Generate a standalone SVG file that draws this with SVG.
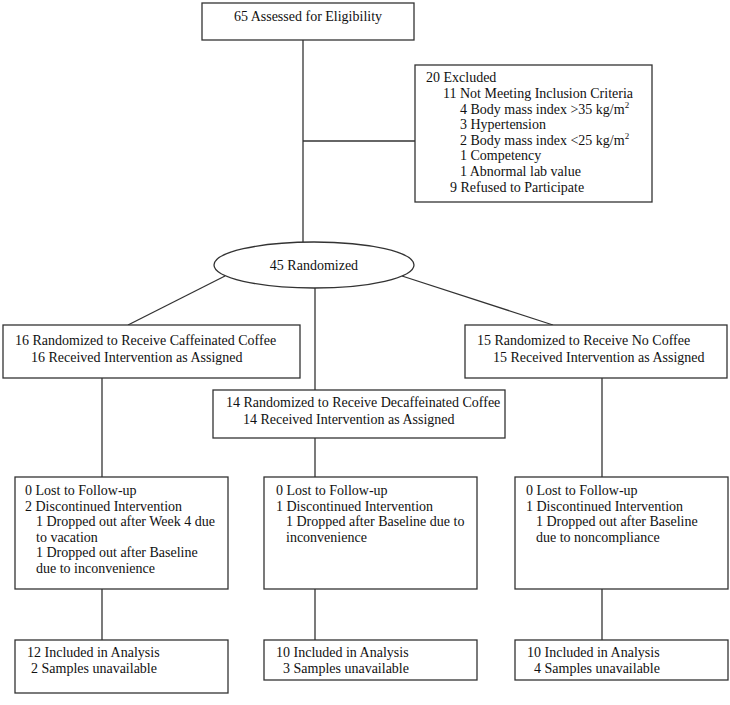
<svg xmlns="http://www.w3.org/2000/svg" width="730" height="705" viewBox="0 0 730 705">
<style>
.box{fill:#fff;stroke:#333;stroke-width:1.3}
.ln{fill:none;stroke:#333;stroke-width:1.3}
text{font-family:"Liberation Serif","Times New Roman",serif;font-size:14px;fill:#111}
.sup{font-size:9px}
</style>
<rect width="730" height="705" fill="#fff"/>
<g id="connectors">
<line class="ln" x1="303" y1="40" x2="303" y2="242"/>
<line class="ln" x1="303" y1="141" x2="415" y2="141"/>
<line class="ln" x1="225" y1="276" x2="128" y2="325"/>
<line class="ln" x1="402" y1="276" x2="553" y2="325"/>
<line class="ln" x1="315" y1="288" x2="315" y2="390"/>
<line class="ln" x1="102" y1="378" x2="102" y2="477"/>
<line class="ln" x1="602" y1="378" x2="602" y2="477"/>
<line class="ln" x1="315" y1="438" x2="315" y2="477"/>
<line class="ln" x1="102" y1="589" x2="102" y2="640"/>
<line class="ln" x1="315" y1="589" x2="315" y2="640"/>
<line class="ln" x1="602" y1="589" x2="602" y2="640"/>
</g>
<g id="assessed">
<rect class="box" x="202" y="3" width="212" height="37"/>
<text x="308" y="21" text-anchor="middle">65 Assessed for Eligibility</text>
</g>
<g id="excluded">
<rect class="box" x="415" y="65" width="237" height="137"/>
<text x="426" y="82">20 Excluded</text>
<text x="443" y="98">11 Not Meeting Inclusion Criteria</text>
<text x="460" y="114">4 Body mass index &gt;35 kg/m<tspan class="sup" dy="-6">2</tspan></text>
<text x="460" y="129">3 Hypertension</text>
<text x="460" y="145">2 Body mass index &lt;25 kg/m<tspan class="sup" dy="-6">2</tspan></text>
<text x="460" y="160">1 Competency</text>
<text x="460" y="176">1 Abnormal lab value</text>
<text x="450" y="192">9 Refused to Participate</text>
</g>
<g id="randomized">
<ellipse class="box" cx="314" cy="265" rx="100" ry="23"/>
<text x="314" y="270" text-anchor="middle">45 Randomized</text>
</g>
<g id="caffeinated">
<rect class="box" x="3" y="325" width="297" height="53"/>
<text x="15" y="345">16 Randomized to Receive Caffeinated Coffee</text>
<text x="31" y="362">16 Received Intervention as Assigned</text>
</g>
<g id="decaf">
<rect class="box" x="213" y="390" width="292" height="48"/>
<text x="226" y="407">14 Randomized to Receive Decaffeinated Coffee</text>
<text x="243" y="424">14 Received Intervention as Assigned</text>
</g>
<g id="nocoffee">
<rect class="box" x="465" y="325" width="262" height="53"/>
<text x="477" y="345">15 Randomized to Receive No Coffee</text>
<text x="493" y="362">15 Received Intervention as Assigned</text>
</g>
<g id="followup-caf">
<rect class="box" x="15" y="477" width="213" height="112"/>
<text x="25" y="495">0 Lost to Follow-up</text>
<text x="25" y="511">2 Discontinued Intervention</text>
<text x="36" y="526">1 Dropped out after Week 4 due</text>
<text x="36" y="542">to vacation</text>
<text x="36" y="557">1 Dropped out after Baseline</text>
<text x="36" y="573">due to inconvenience</text>
</g>
<g id="followup-decaf">
<rect class="box" x="264" y="477" width="213" height="112"/>
<text x="276" y="495">0 Lost to Follow-up</text>
<text x="276" y="511">1 Discontinued Intervention</text>
<text x="286" y="526">1 Dropped after Baseline due to</text>
<text x="286" y="542">inconvenience</text>
</g>
<g id="followup-none">
<rect class="box" x="515" y="477" width="213" height="112"/>
<text x="526" y="495">0 Lost to Follow-up</text>
<text x="526" y="511">1 Discontinued Intervention</text>
<text x="536" y="526">1 Dropped out after Baseline</text>
<text x="536" y="542">due to noncompliance</text>
</g>
<g id="analysis-caf">
<rect class="box" x="15" y="640" width="213" height="53"/>
<text x="27" y="657">12 Included in Analysis</text>
<text x="31" y="673">2 Samples unavailable</text>
</g>
<g id="analysis-decaf">
<rect class="box" x="264" y="640" width="213" height="40"/>
<text x="276" y="657">10 Included in Analysis</text>
<text x="283" y="673">3 Samples unavailable</text>
</g>
<g id="analysis-none">
<rect class="box" x="515" y="640" width="213" height="40"/>
<text x="527" y="657">10 Included in Analysis</text>
<text x="534" y="673">4 Samples unavailable</text>
</g>
</svg>
